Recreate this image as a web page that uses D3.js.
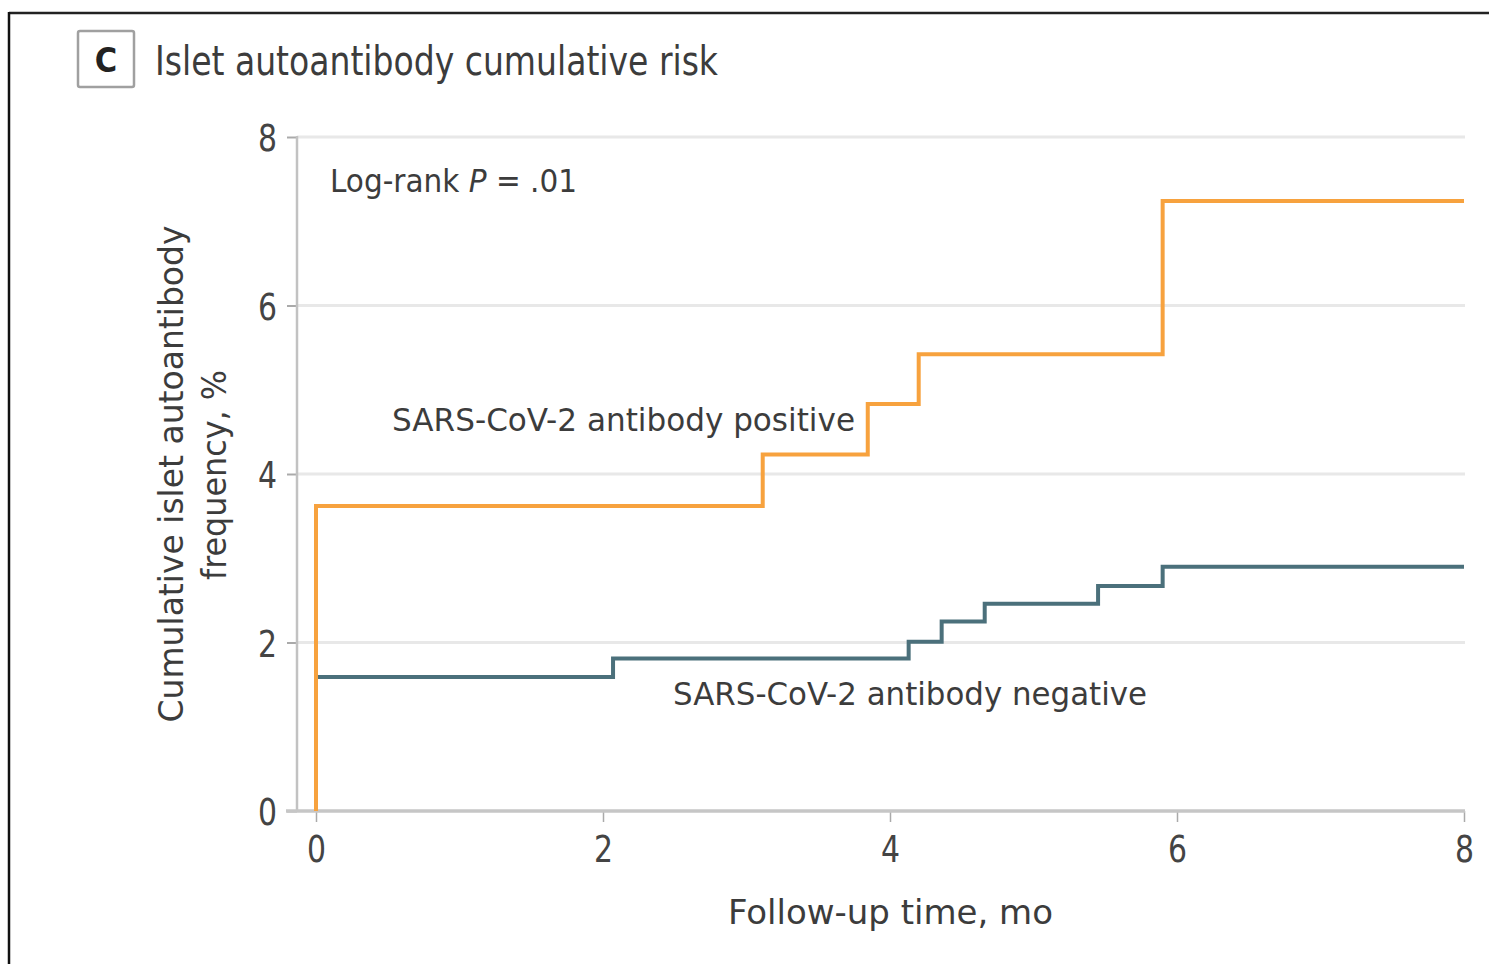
<!DOCTYPE html>
<html>
<head>
<meta charset="utf-8">
<script src="https://cdn.jsdelivr.net/npm/d3@7"></script>
<style>
  html, body { margin: 0; padding: 0; background: #fff; }
  svg { display: block; }
  text { font-family: "Liberation Sans Narrow", "DejaVu Sans Condensed", "Roboto", sans-serif; fill: #3c3c3c; }
</style>
</head>
<body>
<svg id="chart" width="1489" height="964"></svg>
<script>
// ---- data ----
const positiveMonths = [0, 0, 3.113, 3.845, 4.20, 5.90, 8];
const positiveRisk   = [0, 3.62, 4.23, 4.83, 5.42, 7.24, 7.24];
const negativeMonths = [0, 2.07, 4.13, 4.36, 4.66, 5.45, 5.90, 8];
const negativeRisk   = [1.59, 1.81, 2.01, 2.25, 2.46, 2.67, 2.90, 2.90];
const xTicks = [0, 2, 4, 6, 8];
const yTicks = [0, 2, 4, 6, 8];
const seriesLabels = ["SARS-CoV-2 antibody positive", "SARS-CoV-2 antibody negative"];

const svg = d3.select("#chart");

// frame
svg.append("line").attr("x1", 9).attr("x2", 1489).attr("y1", 13).attr("y2", 13)
  .attr("stroke", "#222").attr("stroke-width", 2.5);
svg.append("line").attr("x1", 9).attr("x2", 9).attr("y1", 12).attr("y2", 964)
  .attr("stroke", "#111").attr("stroke-width", 2.5);

// panel letter + title
svg.append("rect").attr("x", 78).attr("y", 31).attr("width", 56).attr("height", 56)
  .attr("rx", 2).attr("fill", "#fff").attr("stroke", "#a0a0a0").attr("stroke-width", 2.5);
svg.append("text").attr("x", 106).attr("y", 72).attr("text-anchor", "middle")
  .attr("font-size", 34).attr("font-weight", "bold").style("fill", "#222").text("C");
svg.append("text").attr("x", 155).attr("y", 75).attr("font-size", 40)
  .attr("textLength", 563).attr("lengthAdjust", "spacingAndGlyphs")
  .text("Islet autoantibody cumulative risk");

// scales
const x = d3.scaleLinear().domain([0, 8]).range([316, 1464]);
const y = d3.scaleLinear().domain([0, 8]).range([811, 137]);

// gridlines
svg.append("g").selectAll("line").data(yTicks.filter(d => d > 0)).join("line")
  .attr("x1", 297).attr("x2", 1465)
  .attr("y1", d => y(d)).attr("y2", d => y(d))
  .attr("stroke", "#e8e8e8").attr("stroke-width", 3);

// y axis
const yAxis = svg.append("g").attr("transform", "translate(297,0)")
  .call(d3.axisLeft(y).tickValues(yTicks).tickSize(10).tickPadding(10).tickFormat(d3.format("d")));
yAxis.select(".domain").remove();
yAxis.selectAll(".tick line").attr("stroke", "#aaa").attr("stroke-width", 2);
yAxis.selectAll(".tick text").attr("font-size", 38).style("fill", "#444")
  .attr("font-family", null).attr("dy", "0.36em")
  .attr("textLength", 19).attr("lengthAdjust", "spacingAndGlyphs");
svg.append("line").attr("x1", 297).attr("x2", 297).attr("y1", 136).attr("y2", 811)
  .attr("stroke", "#c2c2c2").attr("stroke-width", 2.5);

// x axis
const xAxis = svg.append("g").attr("transform", "translate(0,811)")
  .call(d3.axisBottom(x).tickValues(xTicks).tickSize(11).tickPadding(13).tickFormat(d3.format("d")));
xAxis.select(".domain").remove();
xAxis.selectAll(".tick line").attr("stroke", "#aaa").attr("stroke-width", 1.5);
xAxis.selectAll(".tick text").attr("font-size", 38).style("fill", "#444").attr("font-family", null)
  .attr("textLength", 19).attr("lengthAdjust", "spacingAndGlyphs");
svg.append("line").attr("x1", 286).attr("x2", 1465).attr("y1", 811).attr("y2", 811)
  .attr("stroke", "#c6c6c6").attr("stroke-width", 3.5);

// step lines
const step = d3.line().x(d => x(d[0])).y(d => y(d[1])).curve(d3.curveStepAfter);
svg.append("path").datum(d3.zip(negativeMonths, negativeRisk))
  .attr("d", step).attr("fill", "none").attr("stroke", "#4b707b").attr("stroke-width", 4);
svg.append("path").datum(d3.zip(positiveMonths, positiveRisk))
  .attr("d", step).attr("fill", "none").attr("stroke", "#f7a23e").attr("stroke-width", 4);

// annotations
const lr = svg.append("text").attr("x", 330).attr("y", 192).attr("font-size", 32)
  .attr("textLength", 247).attr("lengthAdjust", "spacingAndGlyphs");
lr.append("tspan").text("Log-rank ");
lr.append("tspan").attr("font-style", "italic").text("P");
lr.append("tspan").text(" = .01");

svg.append("text").attr("x", 392).attr("y", 431).attr("font-size", 32)
  .attr("textLength", 463).attr("lengthAdjust", "spacingAndGlyphs").text(seriesLabels[0]);
svg.append("text").attr("x", 673).attr("y", 705).attr("font-size", 32)
  .attr("textLength", 474).attr("lengthAdjust", "spacingAndGlyphs").text(seriesLabels[1]);

// axis titles
svg.append("text").attr("x", 728).attr("y", 924).attr("font-size", 34)
  .attr("textLength", 325).attr("lengthAdjust", "spacingAndGlyphs").text("Follow-up time, mo");

svg.append("text").attr("transform", "translate(183,474) rotate(-90)")
  .attr("text-anchor", "middle").attr("font-size", 34)
  .attr("textLength", 497).attr("lengthAdjust", "spacingAndGlyphs")
  .text("Cumulative islet autoantibody");
svg.append("text").attr("transform", "translate(226,475) rotate(-90)")
  .attr("text-anchor", "middle").attr("font-size", 34)
  .attr("textLength", 210).attr("lengthAdjust", "spacingAndGlyphs")
  .text("frequency, %");
</script>
</body>
</html>
